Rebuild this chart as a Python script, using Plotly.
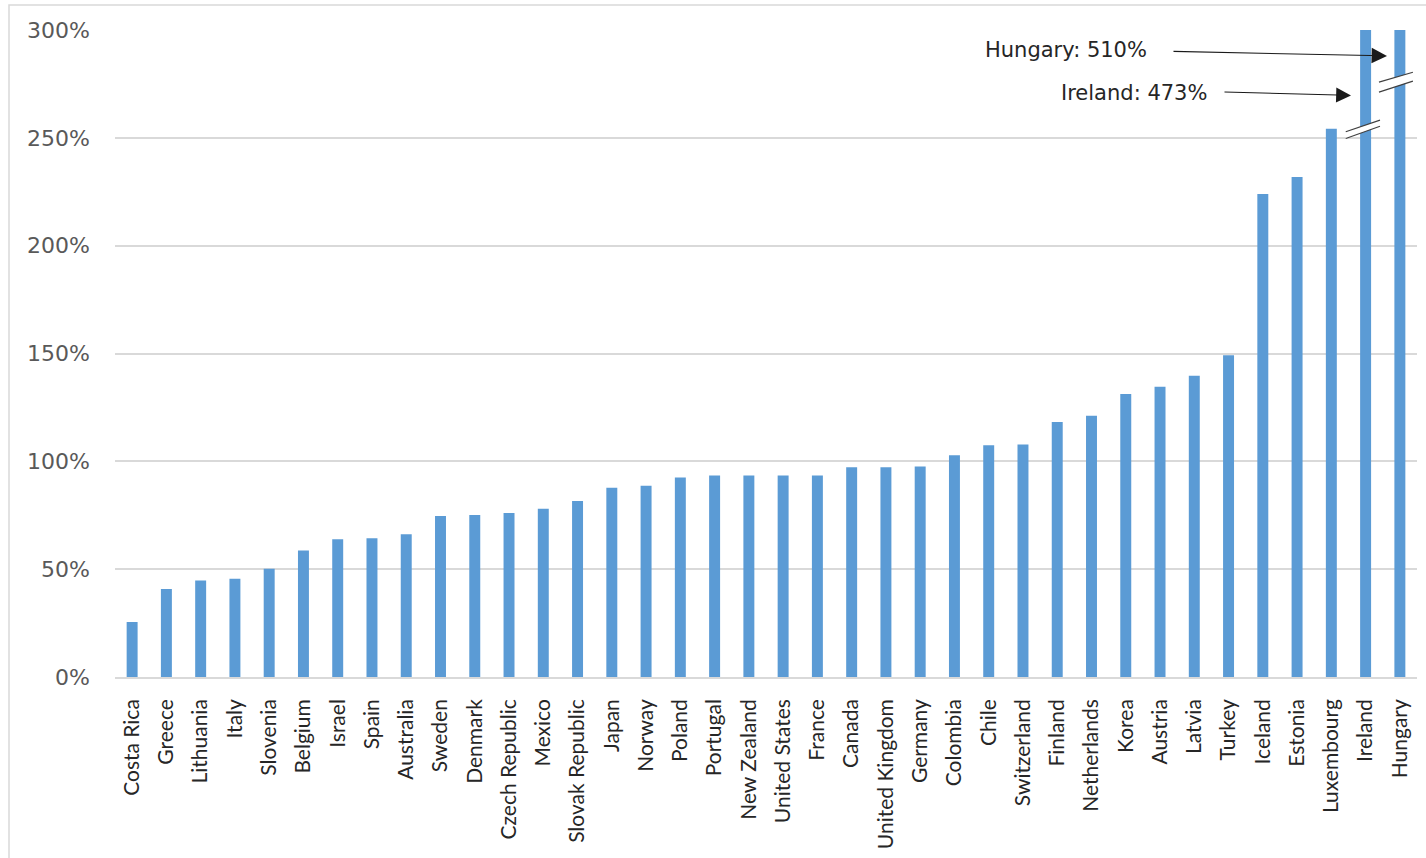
import plotly.graph_objects as go

countries = ["Costa Rica", "Greece", "Lithuania", "Italy", "Slovenia", "Belgium", "Israel", "Spain",
             "Australia", "Sweden", "Denmark", "Czech Republic", "Mexico", "Slovak Republic", "Japan",
             "Norway", "Poland", "Portugal", "New Zealand", "United States", "France", "Canada",
             "United Kingdom", "Germany", "Colombia", "Chile", "Switzerland", "Finland", "Netherlands",
             "Korea", "Austria", "Latvia", "Turkey", "Iceland", "Estonia", "Luxembourg", "Ireland", "Hungary"]
values = [25.5, 40.8, 44.7, 45.6, 50.2, 58.7, 63.9, 64.3,
          66.2, 74.6, 75.1, 76.0, 78.0, 81.6, 87.8,
          88.7, 92.5, 93.4, 93.4, 93.4, 93.4, 97.3,
          97.3, 97.6, 102.8, 107.4, 107.8, 118.2, 121.1,
          131.2, 134.6, 139.7, 149.2, 224.0, 231.8, 254.2, 473, 510]
y_ticks = [0, 50, 100, 150, 200, 250, 300]
y_max = 300

W, H = 1426, 858
L, R, T, B = 115, 9, 30, 178

fig = go.Figure(go.Bar(x=countries, y=values, marker=dict(color="#5B9BD5", line=dict(width=0)),
                       hoverinfo="x+y"))

fig.update_layout(
    width=W, height=H, margin=dict(l=L, r=R, t=T, b=B, pad=0),
    paper_bgcolor="white", plot_bgcolor="white",
    bargap=0.68, showlegend=False,
    xaxis=dict(type="category", tickangle=-90, showgrid=False, showline=True, linecolor="#d9d9d9",
               linewidth=1.5, ticks="", tickfont=dict(family="Lato", size=21, color="#262626"),
               ticklabelstandoff=12, range=[-0.5, len(countries) - 0.5], fixedrange=True),
    yaxis=dict(range=[0, y_max], tickvals=y_ticks, ticktext=[f"{v}%" for v in y_ticks],
               showgrid=True, gridcolor="#d9d9d9", gridwidth=1.5, zeroline=False, showline=False,
               ticks="", tickfont=dict(family="DejaVu Sans", size=22, color="#595959"),
               ticklabelstandoff=24, fixedrange=True),
)

# outer border of the chart area
pw = W - L - R
ph = H - T - B
def px_to_paper_x(px):
    return (px - L) / pw
def px_to_paper_y(py):
    return (H - B - py) / ph

fig.add_shape(type="rect", xref="paper", yref="paper",
              x0=px_to_paper_x(9), x1=px_to_paper_x(1440),
              y0=px_to_paper_y(870), y1=px_to_paper_y(5),
              line=dict(color="#d9d9d9", width=1.5), fillcolor="rgba(0,0,0,0)", layer="below")

# axis break marks (Ireland index 36, Hungary index 37)
def break_mark(xa, xb, y_up_a, y_up_b, y_lo_a, y_lo_b):
    path = f"M {xa},{y_up_a} L {xb},{y_up_b} L {xb},{y_lo_b} L {xa},{y_lo_a} Z"
    fig.add_shape(type="path", xref="x", yref="y", path=path, fillcolor="white",
                  line=dict(width=0), layer="above")
    fig.add_shape(type="line", xref="x", yref="y", x0=xa, y0=y_up_a, x1=xb, y1=y_up_b,
                  line=dict(color="#404040", width=1.2), layer="above")
    fig.add_shape(type="line", xref="x", yref="y", x0=xa, y0=y_lo_a, x1=xb, y1=y_lo_b,
                  line=dict(color="#404040", width=1.2), layer="above")

break_mark(35.42, 36.42, 252.8, 258.2, 249.7, 255.4)
break_mark(36.39, 37.38, 275.8, 280.4, 271.2, 276.3)

ann_font = dict(family="DejaVu Sans", size=21, color="#262626")
fig.add_annotation(xref="paper", yref="paper", x=px_to_paper_x(1149), y=px_to_paper_y(50),
                   xanchor="right", yanchor="middle", text=f"Hungary: {values[-1]:.0f}%",
                   showarrow=False, font=ann_font)
fig.add_annotation(xref="paper", yref="paper", x=px_to_paper_x(1209), y=px_to_paper_y(93),
                   xanchor="right", yanchor="middle", text=f"Ireland: {values[-2]:.0f}%",
                   showarrow=False, font=ann_font)
# arrows
fig.add_annotation(xref="paper", yref="paper", x=px_to_paper_x(1387), y=px_to_paper_y(56),
                   text="", showarrow=True, axref="pixel", ayref="pixel", ax=-215, ay=-4.5,
                   arrowhead=2, arrowsize=2.8, arrowwidth=1.1, arrowcolor="#1a1a1a", standoff=0)
fig.add_annotation(xref="paper", yref="paper", x=px_to_paper_x(1351), y=px_to_paper_y(95.7),
                   text="", showarrow=True, axref="pixel", ayref="pixel", ax=-128, ay=-3.4,
                   arrowhead=2, arrowsize=2.7, arrowwidth=1.1, arrowcolor="#1a1a1a", standoff=0)

fig.write_html("out.html")
